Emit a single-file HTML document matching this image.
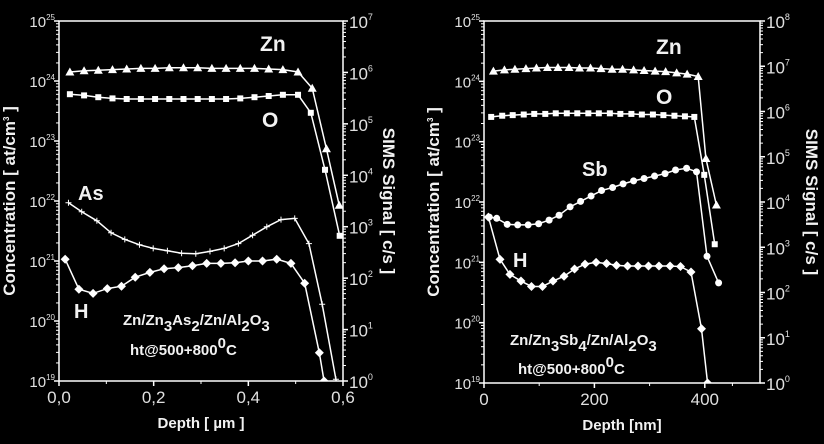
<!DOCTYPE html>
<html><head><meta charset="utf-8"><style>
body{margin:0;background:#000;}
svg{display:block;font-family:"Liberation Sans",Arial,sans-serif;}
</style></head><body>
<svg id="c" width="824" height="444" viewBox="0 0 824 444"></svg>
<script>
// Left panel data (concentration log10 values, depth in µm)
const leftZnX=[0.023,0.053,0.083,0.113,0.143,0.173,0.203,0.233,0.263,0.293,0.323,0.353,0.383,0.413,0.443,0.473,0.505,0.535,0.565,0.592];
const leftZnY=[24.15,24.17,24.18,24.19,24.2,24.21,24.21,24.22,24.22,24.22,24.21,24.21,24.21,24.21,24.2,24.19,24.15,23.88,22.87,21.93];
const leftOX=[0.023,0.053,0.083,0.113,0.143,0.173,0.203,0.233,0.263,0.293,0.323,0.353,0.383,0.413,0.443,0.473,0.505,0.532,0.562,0.593];
const leftOY=[23.78,23.76,23.73,23.71,23.7,23.7,23.7,23.7,23.7,23.7,23.7,23.7,23.71,23.73,23.75,23.77,23.77,23.47,22.52,21.42];
const leftAsX=[0.020,0.048,0.080,0.110,0.139,0.170,0.199,0.229,0.259,0.289,0.319,0.349,0.379,0.409,0.439,0.469,0.498,0.528,0.556,0.585];
const leftAsY=[21.97,21.82,21.67,21.47,21.36,21.27,21.21,21.17,21.13,21.12,21.16,21.21,21.29,21.43,21.57,21.69,21.71,21.29,20.28,19.03];
const leftHX=[0.013,0.042,0.072,0.102,0.132,0.161,0.192,0.222,0.252,0.282,0.312,0.342,0.372,0.400,0.430,0.460,0.490,0.519,0.550,0.560];
const leftHY=[21.03,20.53,20.46,20.54,20.58,20.73,20.81,20.87,20.89,20.92,20.96,20.96,20.97,21.0,21.0,21.03,20.96,20.63,19.47,19.0];
// Right panel data (depth in nm)
const rightZnX=[17,37,56,76,95,115,134,154,173,193,212,232,251,271,290,310,329,349,368,388,402,421];
const rightZnY=[24.17,24.19,24.2,24.21,24.22,24.23,24.23,24.23,24.22,24.22,24.21,24.2,24.2,24.19,24.18,24.17,24.16,24.14,24.12,24.08,22.72,21.95];
const rightOX=[13,33,52,72,91,111,130,150,169,189,208,228,247,267,286,306,325,345,364,381,399,418];
const rightOY=[23.41,23.43,23.44,23.45,23.46,23.46,23.47,23.47,23.47,23.47,23.47,23.47,23.46,23.46,23.45,23.45,23.44,23.43,23.42,23.41,22.45,21.3];
const rightSbX=[9.5,23,42,61,80,99,118,136,156,175,194,213,233,252,271,290,309,328,347,367,385,404,425];
const rightSbY=[21.75,21.73,21.63,21.62,21.62,21.64,21.7,21.78,21.92,22.01,22.1,22.19,22.24,22.3,22.35,22.39,22.43,22.47,22.53,22.56,22.5,21.1,20.66];
const rightHX=[8,29,47,67,86,106,125,145,164,183,203,222,240,260,279,298,317,337,356,375,394,405];
const rightHY=[21.75,21.05,20.8,20.69,20.6,20.6,20.69,20.77,20.89,20.97,21.0,20.98,20.95,20.94,20.94,20.94,20.94,20.94,20.93,20.84,19.9,19.0];
const leftXTicks=["0,0","0,2","0,4","0,6"];
const leftXTickVals=[0,0.2,0.4,0.6];
const rightXTicks=["0","200","400"];
const rightXTickVals=[0,200,400];

const NS="http://www.w3.org/2000/svg";
const svg=document.getElementById('c');
function mk(tag,attrs,parent,name,inter){const e=document.createElementNS(NS,tag);for(const k in attrs)e.setAttribute(k,attrs[k]);


(parent||svg).appendChild(e);return e;}
function txt(x,y,s,size,parent,name,opts){opts=opts||{};const t=mk('text',{x:x,y:y,fill:opts.fill||'#f2f2f2','font-size':size,'font-weight':opts.bold?'bold':'normal','text-anchor':opts.anchor||'start'},parent,name);
if(opts.rot)t.setAttribute('transform','rotate('+opts.rot+' '+x+' '+y+')');t.innerHTML=s;return t;}

function panel(P){
 const g=mk('g',{},svg,P.name);
 const xs=v=>P.x0+(v-P.xmin)/(P.xmax-P.xmin)*(P.x1-P.x0);
 const ys=v=>P.y1-(v-19)/6*(P.y1-P.y0);
 mk('rect',{x:P.x0,y:P.y0,width:P.x1-P.x0,height:P.y1-P.y0,fill:'none',stroke:'#fff','stroke-width':1.5},g,'plot-frame');
 for(let d=19;d<=25;d++){const y=ys(d);
  mk('line',{x1:P.x0-5,x2:P.x0,y1:y,y2:y,stroke:'#fff','stroke-width':1.5},g,'y-major-tick');
  txt(P.x0-4,y+6,'10<tspan dy="-7" font-size="8">'+d+'</tspan>',15,g,'y-tick-label',{anchor:'end',fill:'#e0e0e0'});
  if(d<25)for(let m=2;m<10;m++){const yy=ys(d+Math.log10(m));mk('line',{x1:P.x0-3,x2:P.x0,y1:yy,y2:yy,stroke:'#fff','stroke-width':1},g,'y-minor-tick');}
 }
 const n=P.rdec;
 for(let d=0;d<=n;d++){const y=P.y1-d/n*(P.y1-P.y0);
  mk('line',{x1:P.x1,x2:P.x1+5,y1:y,y2:y,stroke:'#fff','stroke-width':1.5},g,'y2-major-tick');
  txt(P.x1+6,y+7,'10<tspan dy="-8" font-size="9">'+d+'</tspan>',17,g,'y2-tick-label',{fill:'#e0e0e0'});
  if(d<n)for(let m=2;m<10;m++){const yy=y-Math.log10(m)/n*(P.y1-P.y0);mk('line',{x1:P.x1,x2:P.x1+3,y1:yy,y2:yy,stroke:'#fff','stroke-width':1},g,'y2-minor-tick');}
 }
 P.xtv.forEach((v,i)=>{const x=xs(v);mk('line',{x1:x,x2:x,y1:P.y1,y2:P.y1+5,stroke:'#fff','stroke-width':1.5},g,'x-major-tick');
  txt(x,P.y1+22,P.xtl[i],17,g,'x-tick-label',{anchor:'middle',fill:'#e0e0e0'});
  if(i<P.xtv.length-1){const xm=xs((v+P.xtv[i+1])/2);mk('line',{x1:xm,x2:xm,y1:P.y1,y2:P.y1+3,stroke:'#fff','stroke-width':1},g,'x-minor-tick');}});
 if(P.xmax>P.xtv[P.xtv.length-1]){const xm=xs((P.xtv[P.xtv.length-1]+P.xmax)/2);mk('line',{x1:xm,x2:xm,y1:P.y1,y2:P.y1+3,stroke:'#fff'},g,'x-minor-tick');}
 txt((P.x0+P.x1)/2,P.y1+47,P.xtitle,15,g,'x-axis-title',{anchor:'middle',bold:true});
 txt(P.ltx,(P.y0+P.y1)/2,'Concentration [ at/cm<tspan dy="-6" font-size="8">3</tspan><tspan dy="6"> ]</tspan>',17,g,'y-axis-title',{anchor:'middle',bold:true,rot:-90});
 txt(P.rtx,(P.y0+P.y1)/2,'SIMS Signal [ c/s ]',17,g,'y2-axis-title',{anchor:'middle',bold:true,rot:90});
 const clip=mk('clipPath',{id:'cl'+P.name},g,'clip');mk('rect',{x:P.x0,y:P.y0,width:P.x1-P.x0,height:P.y1-P.y0},clip,'clip-rect');
 P.series.forEach(s=>{
  const sg=mk('g',{'clip-path':'url(#cl'+P.name+')'},g,'series-'+s.n);
  const pts=s.x.map((v,i)=>[xs(v),ys(s.y[i])]);
  if(s.ext){const l=pts[pts.length-1],p=pts[pts.length-2];const k=(P.y1+10-l[1])/(l[1]-p[1]);pts.push([l[0]+(l[0]-p[0])*k,P.y1+10]);}
  mk('polyline',{points:pts.map(p=>p.join(',')).join(' '),fill:'none',stroke:'#fff','stroke-width':1.5},sg,s.n+'-line');
  s.x.forEach((v,i)=>{const x=xs(v),y=ys(s.y[i]);
   if(s.m==='tri')mk('polygon',{points:`${x},${y-4.5} ${x-4.5},${y+3.5} ${x+4.5},${y+3.5}`,fill:'#fff'},sg,s.n+'-point');
   else if(s.m==='sq')mk('rect',{x:x-3,y:y-3,width:6,height:6,fill:'#fff'},sg,s.n+'-point');
   else if(s.m==='dia')mk('polygon',{points:`${x},${y-4.5} ${x+4.5},${y} ${x},${y+4.5} ${x-4.5},${y}`,fill:'#fff'},sg,s.n+'-point');
   else if(s.m==='cir')mk('circle',{cx:x,cy:y,r:3.5,fill:'#fff'},sg,s.n+'-point');
   else mk('path',{d:`M${x-3},${y}H${x+3}M${x},${y-3}V${y+3}`,stroke:'#fff','stroke-width':1},sg,s.n+'-point');
  });
 });
 P.labels.forEach(l=>txt(l[0],l[1],l[2],l[3],g,l[4],{bold:true}));
}

panel({name:'left-panel',x0:59,x1:343,y0:21,y1:381,xmin:0,xmax:0.6,rdec:7,xtv:leftXTickVals,xtl:leftXTicks,
 xtitle:'Depth [ µm ]',ltx:15,rtx:383,
 series:[{n:'zn',x:leftZnX,y:leftZnY,m:'tri'},{n:'o',x:leftOX,y:leftOY,m:'sq'},{n:'as',x:leftAsX,y:leftAsY,m:'plus',ext:true},{n:'h',x:leftHX,y:leftHY,m:'dia',ext:true}],
 labels:[[260,51,'Zn',21,'label-zn'],[262,127,'O',21,'label-o'],[78,200,'As',20,'label-as'],[74,318,'H',20,'label-h'],
  [123,325,'Zn/Zn<tspan dy="6">3</tspan><tspan dy="-6">As</tspan><tspan dy="6">2</tspan><tspan dy="-6">/Zn/Al</tspan><tspan dy="6">2</tspan><tspan dy="-6">O</tspan><tspan dy="6">3</tspan>',15,'sample-label'],
  [130,355,'ht@500+800<tspan dy="-7">0</tspan><tspan dy="7">C</tspan>',15,'anneal-label']]});
panel({name:'right-panel',x0:484,x1:760,y0:21,y1:383,xmin:0,xmax:500,rdec:8,xtv:rightXTickVals,xtl:rightXTicks,
 xtitle:'Depth [nm]',ltx:439,rtx:806,
 series:[{n:'zn',x:rightZnX,y:rightZnY,m:'tri'},{n:'o',x:rightOX,y:rightOY,m:'sq'},{n:'sb',x:rightSbX,y:rightSbY,m:'cir'},{n:'h',x:rightHX,y:rightHY,m:'dia',ext:true}],
 labels:[[656,54,'Zn',21,'label-zn'],[656,104,'O',21,'label-o'],[582,176,'Sb',20,'label-sb'],[513,267,'H',20,'label-h'],
  [510,345,'Zn/Zn<tspan dy="6">3</tspan><tspan dy="-6">Sb</tspan><tspan dy="6">4</tspan><tspan dy="-6">/Zn/Al</tspan><tspan dy="6">2</tspan><tspan dy="-6">O</tspan><tspan dy="6">3</tspan>',15,'sample-label'],
  [518,374,'ht@500+800<tspan dy="-7">0</tspan><tspan dy="7">C</tspan>',15,'anneal-label']]});
</script>
</body></html>
